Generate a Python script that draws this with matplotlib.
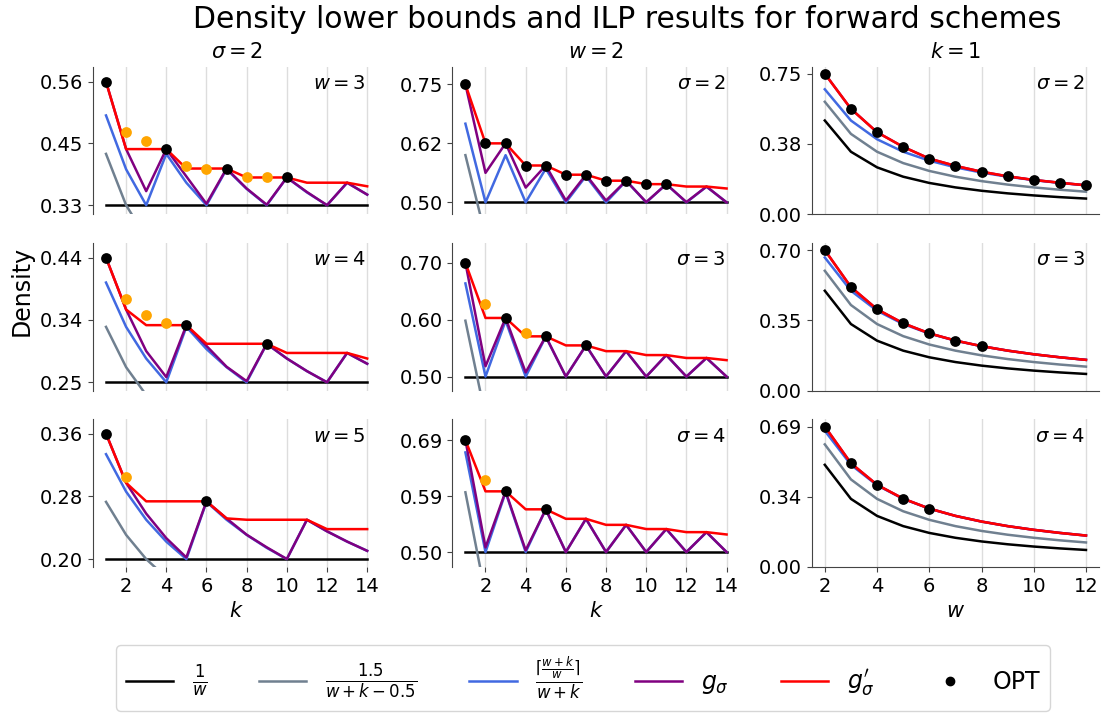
import matplotlib
matplotlib.use('Agg')
import matplotlib.pyplot as plt
import numpy as np
from matplotlib.lines import Line2D

# x axes
k_vals = [1, 2, 3, 4, 5, 6, 7, 8, 9, 10, 11, 12, 13, 14]
w_vals = [2, 3, 4, 5, 6, 7, 8, 9, 10, 11, 12]

# ---------- left column: sigma = 2, rows w = 3, 4, 5 ----------
left_w = [3, 4, 5]
left_inv_w = [0.3333, 0.2500, 0.2000]
left_gray = [
    [0.4286, 0.3333, 0.2727, 0.2308, 0.2000, 0.1765, 0.1579, 0.1429, 0.1304, 0.1200, 0.1111, 0.1034, 0.0968, 0.0909],
    [0.3333, 0.2727, 0.2308, 0.2000, 0.1765, 0.1579, 0.1429, 0.1304, 0.1200, 0.1111, 0.1034, 0.0968, 0.0909, 0.0857],
    [0.2727, 0.2308, 0.2000, 0.1765, 0.1579, 0.1429, 0.1304, 0.1200, 0.1111, 0.1034, 0.0968, 0.0909, 0.0857, 0.0811],
]
left_blue = [
    [0.5000, 0.4000, 0.3333, 0.4286, 0.3750, 0.3333, 0.4000, 0.3636, 0.3333, 0.3846, 0.3571, 0.3333, 0.3750, 0.3529],
    [0.4000, 0.3333, 0.2857, 0.2500, 0.3333, 0.3000, 0.2727, 0.2500, 0.3077, 0.2857, 0.2667, 0.2500, 0.2941, 0.2778],
    [0.3333, 0.2857, 0.2500, 0.2222, 0.2000, 0.2727, 0.2500, 0.2308, 0.2143, 0.2000, 0.2500, 0.2353, 0.2222, 0.2105],
]
left_g = [
    [0.5625, 0.4375, 0.3594, 0.4375, 0.3867, 0.3359, 0.4014, 0.3643, 0.3342, 0.3848, 0.3578, 0.3334, 0.3751, 0.3530],
    [0.4375, 0.3594, 0.2969, 0.2578, 0.3359, 0.3047, 0.2734, 0.2517, 0.3079, 0.2858, 0.2668, 0.2500, 0.2941, 0.2779],
    [0.3594, 0.2969, 0.2578, 0.2266, 0.2021, 0.2734, 0.2517, 0.2310, 0.2150, 0.2001, 0.2500, 0.2353, 0.2223, 0.2105],
]
left_gp = [
    [0.5625, 0.4375, 0.4375, 0.4375, 0.4014, 0.4014, 0.4014, 0.3848, 0.3848, 0.3848, 0.3751, 0.3751, 0.3751, 0.3684],
    [0.4375, 0.3594, 0.3359, 0.3359, 0.3359, 0.3079, 0.3079, 0.3079, 0.3079, 0.2941, 0.2941, 0.2941, 0.2941, 0.2857],
    [0.3594, 0.2969, 0.2734, 0.2734, 0.2734, 0.2734, 0.2517, 0.2500, 0.2500, 0.2500, 0.2500, 0.2381, 0.2381, 0.2381],
]
left_opt_k = [[1, 4, 7, 10], [1, 5, 9], [1, 6]]
left_opt = [[0.5625, 0.4375, 0.4014, 0.3848], [0.4375, 0.3359, 0.3079], [0.3594, 0.2734]]
left_ilp_k = [[2, 3, 5, 6, 8, 9], [2, 3, 4], [2]]
left_ilp = [[0.4688, 0.4531, 0.4063, 0.4014, 0.3857, 0.3857], [0.3750, 0.3516, 0.3398], [0.3047]]

# ---------- middle column: w = 2, rows sigma = 2, 3, 4 ----------
mid_sigma = [2, 3, 4]
mid_inv_w = 0.5
mid_gray = [0.6000, 0.4286, 0.3333, 0.2727, 0.2308, 0.2000, 0.1765, 0.1579, 0.1429, 0.1304, 0.1200, 0.1111, 0.1034, 0.0968]
mid_blue = [0.6667, 0.5000, 0.6000, 0.5000, 0.5714, 0.5000, 0.5556, 0.5000, 0.5455, 0.5000, 0.5385, 0.5000, 0.5333, 0.5000]
mid_g = [
    [0.7500, 0.5625, 0.6250, 0.5313, 0.5781, 0.5039, 0.5586, 0.5039, 0.5459, 0.5005, 0.5386, 0.5006, 0.5335, 0.5000],
    [0.7037, 0.5185, 0.6049, 0.5075, 0.5720, 0.5002, 0.5558, 0.5004, 0.5455, 0.5000, 0.5385, 0.5000, 0.5333, 0.5000],
    [0.6875, 0.5078, 0.6016, 0.5029, 0.5715, 0.5000, 0.5556, 0.5001, 0.5455, 0.5000, 0.5385, 0.5000, 0.5333, 0.5000],
]
mid_gp = [
    [0.7500, 0.6250, 0.6250, 0.5781, 0.5781, 0.5586, 0.5586, 0.5459, 0.5459, 0.5386, 0.5386, 0.5335, 0.5335, 0.5294],
    [0.7037, 0.6049, 0.6049, 0.5720, 0.5720, 0.5558, 0.5558, 0.5455, 0.5455, 0.5385, 0.5385, 0.5333, 0.5333, 0.5294],
    [0.6875, 0.6016, 0.6016, 0.5715, 0.5715, 0.5556, 0.5556, 0.5455, 0.5455, 0.5385, 0.5385, 0.5333, 0.5333, 0.5294],
]
mid_opt_k = [[1, 2, 3, 4, 5, 6, 7, 8, 9, 10, 11], [1, 3, 5, 7], [1, 3, 5]]
mid_opt = [
    [0.7500, 0.6250, 0.6250, 0.5781, 0.5781, 0.5586, 0.5586, 0.5459, 0.5459, 0.5386, 0.5386],
    [0.7037, 0.6049, 0.5720, 0.5558],
    [0.6875, 0.6016, 0.5715],
]
mid_ilp_k = [[], [2, 4], [2]]
mid_ilp = [[], [0.6296, 0.5775], [0.6211]]

# ---------- right column: k = 1, rows sigma = 2, 3, 4 ----------
right_sigma = [2, 3, 4]
right_inv_w = [0.5000, 0.3333, 0.2500, 0.2000, 0.1667, 0.1429, 0.1250, 0.1111, 0.1000, 0.0909, 0.0833]
right_gray = [0.6000, 0.4286, 0.3333, 0.2727, 0.2308, 0.2000, 0.1765, 0.1579, 0.1429, 0.1304, 0.1200]
right_blue = [0.6667, 0.5000, 0.4000, 0.3333, 0.2857, 0.2500, 0.2222, 0.2000, 0.1818, 0.1667, 0.1538]
right_g = [
    [0.7500, 0.5625, 0.4375, 0.3594, 0.2969, 0.2578, 0.2266, 0.2021, 0.1826, 0.1677, 0.1541],
    [0.7037, 0.5185, 0.4074, 0.3374, 0.2867, 0.2506, 0.2225, 0.2001, 0.1818, 0.1667, 0.1538],
    [0.6875, 0.5078, 0.4023, 0.3345, 0.2859, 0.2501, 0.2223, 0.2000, 0.1818, 0.1667, 0.1538],
]
right_gp = right_g  # for k = 1 both bounds coincide
right_opt_w = [[2, 3, 4, 5, 6, 7, 8, 9, 10, 11, 12], [2, 3, 4, 5, 6, 7, 8], [2, 3, 4, 5, 6]]
right_opt = [
    [0.7500, 0.5625, 0.4375, 0.3594, 0.2969, 0.2578, 0.2266, 0.2021, 0.1826, 0.1677, 0.1541],
    [0.7037, 0.5185, 0.4074, 0.3374, 0.2867, 0.2506, 0.2225],
    [0.6875, 0.5078, 0.4023, 0.3345, 0.2859],
]

C_INV = 'black'
C_GRAY = '#708090'
C_BLUE = '#4169e1'
C_PURPLE = '#800080'
C_RED = '#ff0000'
C_ILP = '#ffa500'
LW = 1.8


def draw_panel(ax, x, inv_w, gray, blue, g, gp, opt_x, opt_y, ilp_x, ilp_y, lo, note):
    if np.ndim(inv_w) == 0:
        ax.plot([x[0], x[-1]], [inv_w, inv_w], color=C_INV, lw=LW)
    else:
        ax.plot(x, inv_w, color=C_INV, lw=LW)
    ax.plot(x, gray, color=C_GRAY, lw=LW)
    ax.plot(x, blue, color=C_BLUE, lw=LW)
    ax.plot(x, g, color=C_PURPLE, lw=LW)
    ax.plot(x, gp, color=C_RED, lw=LW)
    if len(ilp_x):
        ax.scatter(ilp_x, ilp_y, color=C_ILP, s=60, zorder=5, linewidths=0)
    ax.scatter(opt_x, opt_y, color='black', s=60, zorder=6, linewidths=0)

    hi = gp[0]
    ax.set_ylim(0.95 * lo, 1.05 * hi)
    ticks = np.linspace(lo, hi, 3)
    ax.set_yticks(ticks)
    ax.set_yticklabels([f'{t:.2f}' for t in ticks])
    ax.text(0.95, 0.95, note, transform=ax.transAxes, ha='right', va='top', fontsize=14)

    ax.set_axisbelow(True)
    ax.grid(axis='x', color='#dddddd', lw=1)
    ax.spines['top'].set_visible(False)
    ax.spines['right'].set_visible(False)
    ax.spines['left'].set_color('#444444')
    ax.spines['bottom'].set_color('#444444')
    ax.tick_params(axis='both', labelsize=14, color='#444444')


fig, axes = plt.subplots(3, 3, figsize=(11.04, 7.13), dpi=100)
fig.subplots_adjust(left=0.0842, right=0.9955, top=0.9065, bottom=0.2048, wspace=0.251, hspace=0.196)

for r in range(3):
    ax = axes[r, 0]
    draw_panel(ax, k_vals, left_inv_w[r], left_gray[r], left_blue[r], left_g[r], left_gp[r],
               left_opt_k[r], left_opt[r], left_ilp_k[r], left_ilp[r],
               left_inv_w[r], rf'$w = {left_w[r]}$')
    ax.spines['bottom'].set_visible(False)
    ax.set_xticks(k_vals[1::2])

    ax = axes[r, 1]
    draw_panel(ax, k_vals, mid_inv_w, mid_gray, mid_blue, mid_g[r], mid_gp[r],
               mid_opt_k[r], mid_opt[r], mid_ilp_k[r], mid_ilp[r],
               mid_inv_w, rf'$\sigma = {mid_sigma[r]}$')
    ax.spines['bottom'].set_visible(False)
    ax.set_xticks(k_vals[1::2])

    ax = axes[r, 2]
    draw_panel(ax, w_vals, right_inv_w, right_gray, right_blue, right_g[r], right_gp[r],
               right_opt_w[r], right_opt[r], [], [],
               0.0, rf'$\sigma = {right_sigma[r]}$')
    ax.set_ylim(0, 1.05 * right_gp[r][0])
    ax.set_xticks(w_vals[::2])

    if r < 2:
        for c in range(3):
            axes[r, c].tick_params(axis='x', length=0, labelbottom=False)

axes[0, 0].set_title(r'$\sigma = 2$', fontsize=15, pad=6)
axes[0, 1].set_title(r'$w = 2$', fontsize=15, pad=6)
axes[0, 2].set_title(r'$k = 1$', fontsize=15, pad=6)
axes[2, 0].set_xlabel(r'$k$', fontsize=15)
axes[2, 1].set_xlabel(r'$k$', fontsize=15)
axes[2, 2].set_xlabel(r'$w$', fontsize=15)

fig.text(0.568, 0.972, 'Density lower bounds and ILP results for forward schemes',
         ha='center', va='center', fontsize=21.5)
fig.text(0.020, 1 - 291 / 713, 'Density', rotation=90, ha='center', va='center', fontsize=17)

handles = [
    Line2D([], [], color=C_INV, lw=LW),
    Line2D([], [], color=C_GRAY, lw=LW),
    Line2D([], [], color=C_BLUE, lw=LW),
    Line2D([], [], color=C_PURPLE, lw=LW),
    Line2D([], [], color=C_RED, lw=LW),
    Line2D([], [], color='black', marker='o', linestyle='None', markersize=6),
]
labels = [
    r'$\frac{1}{w}$',
    r'$\frac{1.5}{w+k-0.5}$',
    r'$\frac{\lceil\frac{w+k}{w}\rceil}{w+k}$',
    r'$g_{\sigma}$',
    r'$g_{\sigma}^{\prime}$',
    'OPT',
]
fig.legend(handles, labels, loc='center', bbox_to_anchor=(583 / 1104, 1 - 678 / 713),
           ncol=6, fontsize=17, columnspacing=2.2)

fig.savefig('out.png', dpi=100)
